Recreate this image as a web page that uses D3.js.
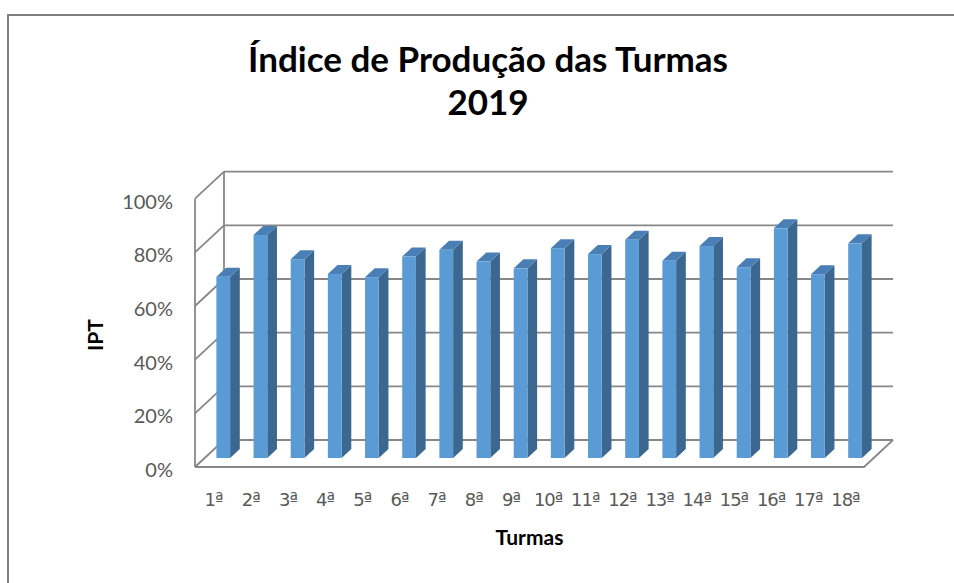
<!DOCTYPE html>
<html>
<head>
<meta charset="utf-8">
<script src="https://cdn.jsdelivr.net/npm/d3@7"></script>
<style>
  body { margin: 0; background: #fff; }
  svg { display: block; font-family: Lato, "Open Sans", sans-serif; }
</style>
</head>
<body>
<div class="canvas"></div>
<script>
// data
const turmas = ['1ª','2ª','3ª','4ª','5ª','6ª','7ª','8ª','9ª','10ª','11ª','12ª','13ª','14ª','15ª','16ª','17ª','18ª'];
const ipt = [0.676, 0.831, 0.741, 0.686, 0.674, 0.751, 0.776, 0.732, 0.707, 0.782, 0.760, 0.813, 0.735, 0.790, 0.711, 0.856, 0.685, 0.800];
const yTicks = [0, 0.2, 0.4, 0.6, 0.8, 1];
const titleLines = ['Índice de Produção das Turmas', '2019'];

const width = 954, height = 583;

const svg = d3.select('.canvas')
  .append('svg')
    .attr('width', width)
    .attr('height', height);

// outer chart border (right and bottom fall outside the picture)
svg.append('path')
  .attr('d', `M8,${height + 5} L8,15 L${width + 5},15`)
  .attr('fill', 'none')
  .attr('stroke', '#808080')
  .attr('stroke-width', 2);

// 3d frame: back wall + depth offset towards the viewer
const back = {left: 224, right: 893, top: 171.7, bottom: 440};
const depth = {dx: -29, dy: 27};   // full floor depth, back -> front

const x = d3.scaleBand()
  .domain(turmas)
  .range([back.left, back.right]);

const y = d3.scaleLinear()
  .domain([0, 1])
  .range([back.bottom, back.top]);

// shift a back-wall point forward by fraction f of the depth
const fwd = (px, py, f) => [px + depth.dx * f, py + depth.dy * f];

const gridColor = '#878787';
const frame = svg.append('g')
  .attr('fill', 'none')
  .attr('stroke', gridColor)
  .attr('stroke-width', 1.8);

// back wall gridlines
frame.selectAll('.grid')
  .data(yTicks)
  .enter().append('line')
    .attr('x1', back.left)
    .attr('x2', back.right)
    .attr('y1', d => y(d))
    .attr('y2', d => y(d));

// side wall diagonals
frame.selectAll('.diag')
  .data(yTicks)
  .enter().append('line')
    .attr('x1', back.left)
    .attr('y1', d => y(d))
    .attr('x2', d => fwd(back.left, y(d), 1)[0])
    .attr('y2', d => fwd(back.left, y(d), 1)[1]);

// side wall verticals
frame.append('line')
  .attr('x1', back.left).attr('x2', back.left)
  .attr('y1', y(1)).attr('y2', y(0));
frame.append('line')
  .attr('x1', fwd(back.left, 0, 1)[0]).attr('x2', fwd(back.left, 0, 1)[0])
  .attr('y1', fwd(0, y(1), 1)[1]).attr('y2', fwd(0, y(0), 1)[1]);

// floor front edge and right edge
const fl = fwd(back.left, y(0), 1), fr = fwd(back.right, y(0), 1);
frame.append('path')
  .attr('d', `M${fl[0]},${fl[1]} L${fr[0]},${fr[1]} L${back.right},${y(0)}`);

// bars, sitting in the middle third of the floor depth
const barW = x.bandwidth() * 0.37;
const fFront = 2 / 3, fBack = 1 / 3;
const bdx = depth.dx * (fBack - fFront), bdy = depth.dy * (fBack - fFront);

const bars = svg.selectAll('.bar')
  .data(turmas.map((t, i) => ({t, v: ipt[i]})))
  .enter().append('g')
    .attr('class', 'bar');

const frontX0 = d => fwd(x(d.t) + x.bandwidth() / 2, 0, fFront)[0] - barW / 2;
const frontTop = d => fwd(0, y(d.v), fFront)[1];
const frontBot = () => fwd(0, y(0), fFront)[1];

// right side face
bars.append('path')
  .attr('fill', '#3b6791')
  .attr('d', d => {
    const x1 = frontX0(d) + barW, yt = frontTop(d), yb = frontBot();
    return `M${x1},${yt} L${x1 + bdx},${yt + bdy} L${x1 + bdx},${yb + bdy} L${x1},${yb} Z`;
  });

// top face
bars.append('path')
  .attr('fill', '#4a7fb6')
  .attr('d', d => {
    const x0 = frontX0(d), x1 = x0 + barW, yt = frontTop(d);
    return `M${x0},${yt} L${x1},${yt} L${x1 + bdx},${yt + bdy} L${x0 + bdx},${yt + bdy} Z`;
  });

// front face
bars.append('rect')
  .attr('fill', '#5b9bd5')
  .attr('x', d => frontX0(d))
  .attr('y', d => frontTop(d))
  .attr('width', barW)
  .attr('height', d => frontBot() - frontTop(d));

// y tick labels on the front edge
svg.append('g')
  .selectAll('text')
  .data(yTicks)
  .enter().append('text')
    .attr('x', 173)
    .attr('y', d => fwd(0, y(d), 1)[1] + 3)
    .attr('dy', '0.35em')
    .attr('text-anchor', 'end')
    .attr('fill', '#595959')
    .style('font-size', '20px')
    .text(d3.format('.0%'));

// x tick labels on the front edge
svg.append('g')
  .selectAll('text')
  .data(turmas)
  .enter().append('text')
    .attr('x', d => fwd(x(d) + x.bandwidth() / 2, 0, 1)[0])
    .attr('y', 506)
    .attr('text-anchor', 'middle')
    .attr('fill', '#595959')
    .style('font-family', '"DejaVu Sans", sans-serif')
    .style('font-size', '18px')
    .style('letter-spacing', '-1px')
    .text(d => d);

// axis titles
svg.append('text')
  .attr('transform', 'translate(103, 335) rotate(-90)')
  .attr('text-anchor', 'middle')
  .style('font-size', '21px')
  .style('font-weight', 'bold')
  .text('IPT');

svg.append('text')
  .attr('x', (fl[0] + fr[0]) / 2)
  .attr('y', 545)
  .attr('text-anchor', 'middle')
  .style('font-size', '21px')
  .style('font-weight', 'bold')
  .text('Turmas');

// chart title
svg.selectAll('.title')
  .data(titleLines)
  .enter().append('text')
    .attr('class', 'title')
    .attr('x', 488)
    .attr('y', (d, i) => 72 + i * 43)
    .attr('text-anchor', 'middle')
    .style('font-size', '35px')
    .style('font-weight', 'bold')
    .text(d => d);
</script>
</body>
</html>
